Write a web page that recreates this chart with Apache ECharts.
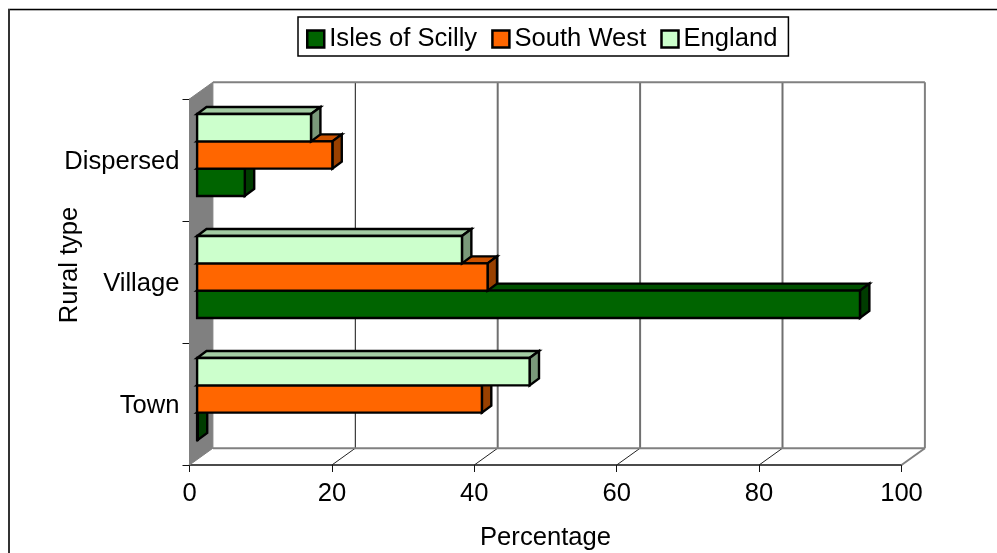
<!DOCTYPE html>
<html><head><meta charset="utf-8">
<style>html,body{margin:0;padding:0;background:#fff}#c{width:997px;height:553px}</style>
<script src="https://cdn.jsdelivr.net/npm/echarts@6/dist/echarts.min.js"></script>
</head><body><div id="c"></div>
<script>
var categories = ['Town', 'Village', 'Dispersed'];
var scilly = [0.1, 93.1, 6.7];
var southWest = [40, 40.8, 19];
var england = [46.7, 37.2, 16];
var xTicks = [0, 20, 40, 60, 80, 100];
var FONT = '"Liberation Sans", Arial, sans-serif';
var FS = 25.6;

var WALL = {dx: 23.4, dy: -16.8};
var SHIFT = {dx: 7.6, dy: -5};
var DEPTH = {dx: 9.4, dy: -7};
var BAR_FRAC = 27.3 / 122;

function barSeries(name, values, slot, front, top, side) {
  return {
    type: 'custom', name: name, coordinateSystem: 'cartesian2d', clip: false, silent: true,
    itemStyle: {color: front, borderColor: '#000', borderWidth: 2},
    encode: {x: 0, y: 1},
    data: values.map(function (v, i) { return [v, i]; }),
    renderItem: function (params, api) {
      var v = api.value(0), c = api.value(1);
      var p0 = api.coord([0, c]), p1 = api.coord([v, c]);
      var h = api.size([0, 1])[1] * BAR_FRAC;
      var x0 = p0[0] + SHIFT.dx, x1 = p1[0] + SHIFT.dx;
      var y0 = p0[1] + SHIFT.dy + slot * h - h / 2, y1 = y0 + h;
      var dx = DEPTH.dx, dy = DEPTH.dy;
      var stroke = {stroke: '#000', lineWidth: 2.4, lineJoin: 'miter'};
      function poly(points, fill) {
        return {type: 'polygon', shape: {points: points}, style: Object.assign({fill: fill}, stroke)};
      }
      return {type: 'group', children: [
        poly([[x0, y0], [x1, y0], [x1 + dx, y0 + dy], [x0 + dx, y0 + dy]], top),
        poly([[x1, y0], [x1 + dx, y0 + dy], [x1 + dx, y1 + dy], [x1, y1]], side),
        poly([[x0, y0], [x1, y0], [x1, y1], [x0, y1]], front)
      ]};
    },
    z: 5
  };
}

var wallSeries = {
  type: 'custom', name: 'walls', coordinateSystem: 'cartesian2d', clip: false, silent: true,
  encode: {x: 0, y: 1}, data: [[0, 0]], z: 1, legendHoverLink: false,
  renderItem: function (params, api) {
    var bandH = api.size([0, 1])[1];
    var first = api.coord([0, 0]);
    var bottom = first[1] + bandH / 2;
    var top = bottom - bandH * categories.length;
    var xL = api.coord([xTicks[0], 0])[0];
    var xR = api.coord([xTicks[xTicks.length - 1], 0])[0];
    var dx = WALL.dx, dy = WALL.dy;
    var kids = [];
    kids.push({type: 'polygon', shape: {points: [[xL, top], [xL + dx, top + dy], [xL + dx, bottom + dy], [xL, bottom]]},
      style: {fill: '#808080', stroke: '#808080', lineWidth: 1}});
    function line(x1, y1, x2, y2, col, w) {
      kids.push({type: 'line', shape: {x1: x1, y1: y1, x2: x2, y2: y2}, style: {stroke: col, lineWidth: w}});
    }
    xTicks.slice(1, -1).forEach(function (t, i) {
      var x = api.coord([t, 0])[0];
      line(x, bottom, x + dx, bottom + dy, '#222', 1);
      line(x + dx, bottom + dy, x + dx, top + dy, i === 0 ? '#111' : '#707070', i === 0 ? 1 : 2);
    });
    line(xL + dx, top + dy, xR + dx, top + dy, '#808080', 2);
    line(xR + dx, top + dy, xR + dx, bottom + dy, '#808080', 2);
    line(xL + dx, bottom + dy, xR + dx, bottom + dy, '#808080', 2);
    line(xR, bottom, xR + dx, bottom + dy, '#808080', 2);
    return {type: 'group', children: kids};
  }
};

var chart = echarts.init(document.getElementById('c'), null, {renderer: 'canvas'});
chart.setOption({
  animation: false,
  backgroundColor: '#fff',
  textStyle: {fontFamily: FONT},
  grid: {left: 189.5, right: 95.5, top: 99, bottom: 88, containLabel: false, outerBoundsMode: 'none'},
  legend: {
    show: true, left: 298, top: 17, orient: 'horizontal',
    data: ['Isles of Scilly', 'South West', 'England'],
    padding: [9, 11, 4, 8],
    itemWidth: 17, itemHeight: 17, itemGap: 14,
    backgroundColor: '#fff', borderColor: '#000', borderWidth: 1.5, borderRadius: 0,
    icon: 'rect', selectedMode: false,
    textStyle: {fontFamily: FONT, fontSize: FS, color: '#000'},
    itemStyle: {borderColor: '#000', borderWidth: 2.5}
  },
  xAxis: {
    type: 'value', min: 0, max: 100, interval: 20,
    name: 'Percentage', nameLocation: 'middle', nameGap: 60, nameMoveOverlap: false,
    nameTextStyle: {fontFamily: FONT, fontSize: FS, color: '#000'},
    axisLine: {show: true, onZero: false, lineStyle: {color: '#111', width: 1.5}},
    axisTick: {show: true, length: 7, lineStyle: {color: '#111', width: 1}},
    axisLabel: {show: true, margin: 16, fontFamily: FONT, fontSize: FS, color: '#000', hideOverlap: false, showMinLabel: true, showMaxLabel: true},
    splitLine: {show: false}
  },
  yAxis: {
    type: 'category', data: categories,
    name: 'Rural type', nameLocation: 'middle', nameGap: 107, nameMoveOverlap: false,
    nameTextStyle: {fontFamily: FONT, fontSize: FS, color: '#000', padding: [0, 0, 0, 34]},
    axisLine: {show: true, lineStyle: {color: '#444', width: 1}},
    axisTick: {show: true, length: 7, alignWithLabel: false, lineStyle: {color: '#111', width: 1}},
    axisLabel: {show: true, margin: 10, fontFamily: FONT, fontSize: FS, color: '#000',
      formatter: '{t|{value}}',
      rich: {t: {fontFamily: FONT, fontSize: FS, color: '#000', padding: [4, 0, 0, 0]}}},
    splitLine: {show: false}
  },
  graphic: [
    {type: 'line', silent: true, z: -1, shape: {x1: 8, y1: 9.5, x2: 997, y2: 9.5}, style: {stroke: '#000', lineWidth: 1.5}},
    {type: 'line', silent: true, z: -1, shape: {x1: 8, y1: 10.5, x2: 997, y2: 10.5}, style: {stroke: '#b0b0b0', lineWidth: 1}},
    {type: 'line', silent: true, z: -1, shape: {x1: 9, y1: 9, x2: 9, y2: 553}, style: {stroke: '#333', lineWidth: 2}}
  ],
  series: [
    wallSeries,
    barSeries('Isles of Scilly', scilly, 1, '#006400', '#005000', '#003C00'),
    barSeries('South West', southWest, 0, '#FF6600', '#CC5200', '#994000'),
    barSeries('England', england, -1, '#CCFFCC', '#A3CCA3', '#7A997A')
  ]
});
</script></body></html>
